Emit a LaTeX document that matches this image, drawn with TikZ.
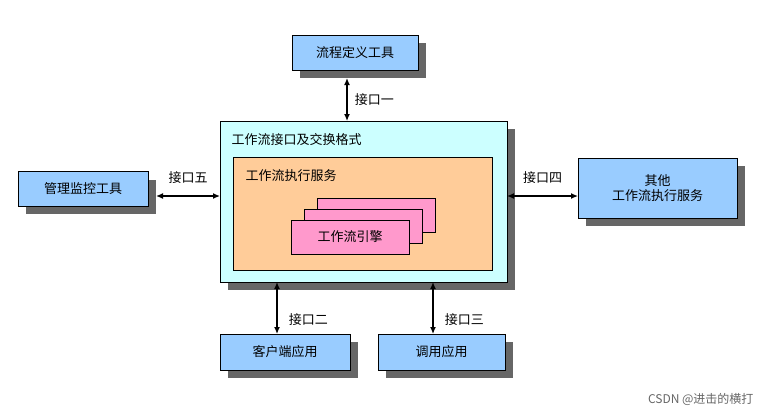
\documentclass[tikz,border=0pt]{standalone}
\usepackage{fontspec}
\setmainfont{Noto Sans CJK SC}
\usetikzlibrary{positioning,arrows.meta}
\definecolor{toolblue}{HTML}{99CCFF}
\definecolor{ifcyan}{HTML}{CCFFFF}
\definecolor{svcorange}{HTML}{FFCC99}
\definecolor{engpink}{HTML}{FF99CC}
\tikzset{
  tool/.style={draw, fill=toolblue, minimum height=35pt, inner sep=2pt, font=\fontsize{13}{15}\selectfont},
  engine/.style={draw, fill=engpink, minimum width=118pt, minimum height=34pt, font=\fontsize{13}{15}\selectfont},
  link/.style={{Latex[length=7pt,width=6pt]}-{Latex[length=7pt,width=6pt]}, line width=1.3pt},
  lbl/.style={font=\fontsize{13}{15}\selectfont}
}
\begin{document}
\begin{tikzpicture}[x=1pt,y=-1pt]
\useasboundingbox (0,0) rectangle (765,416);
% shadows
\foreach \a/\b/\c/\d in {292/35/418/70, 18/172/148/206, 578/158/737/218, 220/334/350/370, 378/334/505/370, 220/121/507/282}
  \fill[black!60] (\a+8,\b+8) rectangle (\c+8,\d+8);
% tools
\node[tool, minimum width=126pt] (def) at (355,52.5) {流程定义工具};
\node[tool, minimum width=130pt] (mon) at (83,189) {管理监控工具};
\node[tool, minimum width=159pt, minimum height=60pt, align=center] (oth) at (657.5,188) {其他\\工作流执行服务};
\node[tool, minimum width=130pt, minimum height=36pt] (cli) at (285,352) {客户端应用};
\node[tool, minimum width=127pt, minimum height=36pt] (app) at (441.5,352) {调用应用};
% interface box
\draw[fill=ifcyan] (220,121) rectangle (507,282);
\node[lbl, anchor=west] (iflbl) at (228,140) {工作流接口及交换格式};
\draw[fill=svcorange] (233,157) rectangle (492,270);
\node[lbl, anchor=west] (svclbl) at (242,176) {工作流执行服务};
% engines
\node[engine] (e3) at (376,215) {};
\node[engine] (e2) at (363,226) {};
\node[engine] (e1) at (350,237) {工作流引擎};
% connectors
\coordinate (ifT) at (347,121);
\coordinate (ifL) at (220,196);
\coordinate (ifR) at (507,196);
\coordinate (ifB1) at (277,282);
\coordinate (ifB2) at (433,282);
\draw[link] (347,78) -- (ifT) node[lbl, midway, right=4pt] {接口一};
\draw[link] (156,196) -- (ifL) node[lbl, midway, above=8pt] {接口五};
\draw[link] (ifR) -- (578,196) node[lbl, midway, above=8pt] {接口四};
\draw[link] (ifB1) -- (277,334) node[lbl, pos=0.72, right=8pt] {接口二};
\draw[link] (ifB2) -- (433,334) node[lbl, pos=0.72, right=8pt] {接口三};
\node[font=\fontsize{12}{14}\selectfont, text=black!60, anchor=east] (wm) at (757,399) {CSDN @进击的横打};
\end{tikzpicture}
\end{document}
